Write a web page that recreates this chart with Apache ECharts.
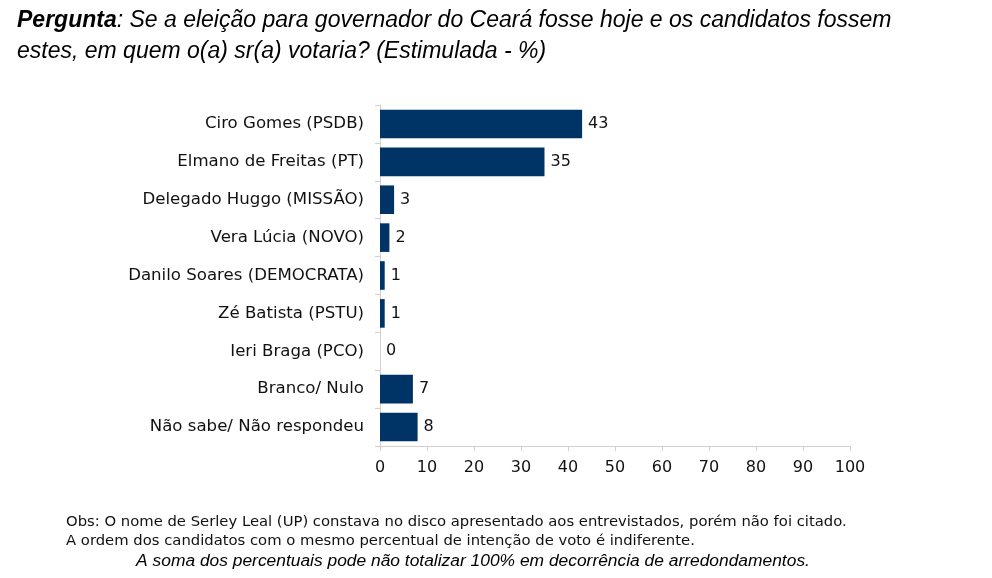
<!DOCTYPE html>
<html>
<head>
<meta charset="utf-8">
<script src="https://cdn.jsdelivr.net/npm/echarts@6/dist/echarts.min.js"></script>
<style>
  html, body { margin: 0; padding: 0; background: #fff; }
  #chart { width: 992px; height: 578px; }
</style>
</head>
<body>
<div id="chart"></div>
<script>
// candidatos e percentuais (de cima para baixo)
var categorias = [
  'Ciro Gomes (PSDB)',
  'Elmano de Freitas (PT)',
  'Delegado Huggo (MISSÃO)',
  'Vera Lúcia (NOVO)',
  'Danilo Soares (DEMOCRATA)',
  'Zé Batista (PSTU)',
  'Ieri Braga (PCO)',
  'Branco/ Nulo',
  'Não sabe/ Não respondeu'
];
var valores = [43, 35, 3, 2, 1, 1, 0, 7, 8];
var eixoMax = 100;
var eixoPasso = 10;

var fonteTitulo = '"Liberation Sans", Arial, sans-serif';
var fonteEixo = '"DejaVu Sans", Verdana, sans-serif';

var chart = echarts.init(document.getElementById('chart'));

var option = {
  animation: false,
  title: [
    {
      left: 12,
      top: 0,
      text: '{b|Pergunta}{n|: Se a eleição para governador do Ceará fosse hoje e os candidatos fossem}\n{n|estes, em quem o(a) sr(a) votaria? (Estimulada - %)}',
      textStyle: {
        rich: {
          b: { fontFamily: fonteTitulo, fontSize: 23, fontStyle: 'italic', fontWeight: 'bold', color: '#000', lineHeight: 31 },
          n: { fontFamily: fonteTitulo, fontSize: 23, fontStyle: 'italic', fontWeight: 'normal', color: '#000', lineHeight: 31 }
        }
      }
    },
    {
      left: 61,
      top: 508,
      text: 'Obs: O nome de Serley Leal (UP) constava no disco apresentado aos entrevistados, porém não foi citado.\nA ordem dos candidatos com o mesmo percentual de intenção de voto é indiferente.',
      textStyle: { fontFamily: fonteEixo, fontSize: 14.8, fontWeight: 'normal', color: '#111', lineHeight: 19 }
    },
    {
      left: 468,
      textAlign: 'center',
      top: 548,
      text: 'A soma dos percentuais pode não totalizar 100% em decorrência de arredondamentos.',
      textStyle: { fontFamily: fonteTitulo, fontSize: 17.4, fontStyle: 'italic', fontWeight: 'normal', color: '#000' }
    }
  ],
  grid: { left: 380, right: 142, top: 105, bottom: 132, containLabel: false },
  xAxis: {
    type: 'value',
    min: 0,
    max: eixoMax,
    interval: eixoPasso,
    splitLine: { show: false },
    axisLine: { show: true, lineStyle: { color: '#d0d0d0', width: 1 } },
    axisTick: { show: true, length: 5, lineStyle: { color: '#d0d0d0' } },
    axisLabel: { fontFamily: fonteEixo, fontSize: 16, color: '#111', margin: 14 }
  },
  yAxis: {
    type: 'category',
    data: categorias,
    inverse: true,
    axisLine: { show: true, lineStyle: { color: '#d0d0d0', width: 1 } },
    axisTick: { show: true, length: 5, lineStyle: { color: '#d0d0d0' } },
    axisLabel: { fontFamily: fonteEixo, fontSize: 16.6, color: '#111', margin: 16 }
  },
  series: [{
    type: 'bar',
    data: valores,
    barCategoryGap: '24.5%',
    itemStyle: { color: '#003366' },
    label: {
      show: true,
      position: 'right',
      distance: 6,
      fontFamily: fonteEixo,
      fontSize: 16,
      color: '#111'
    }
  }]
};

chart.setOption(option);
</script>
</body>
</html>
